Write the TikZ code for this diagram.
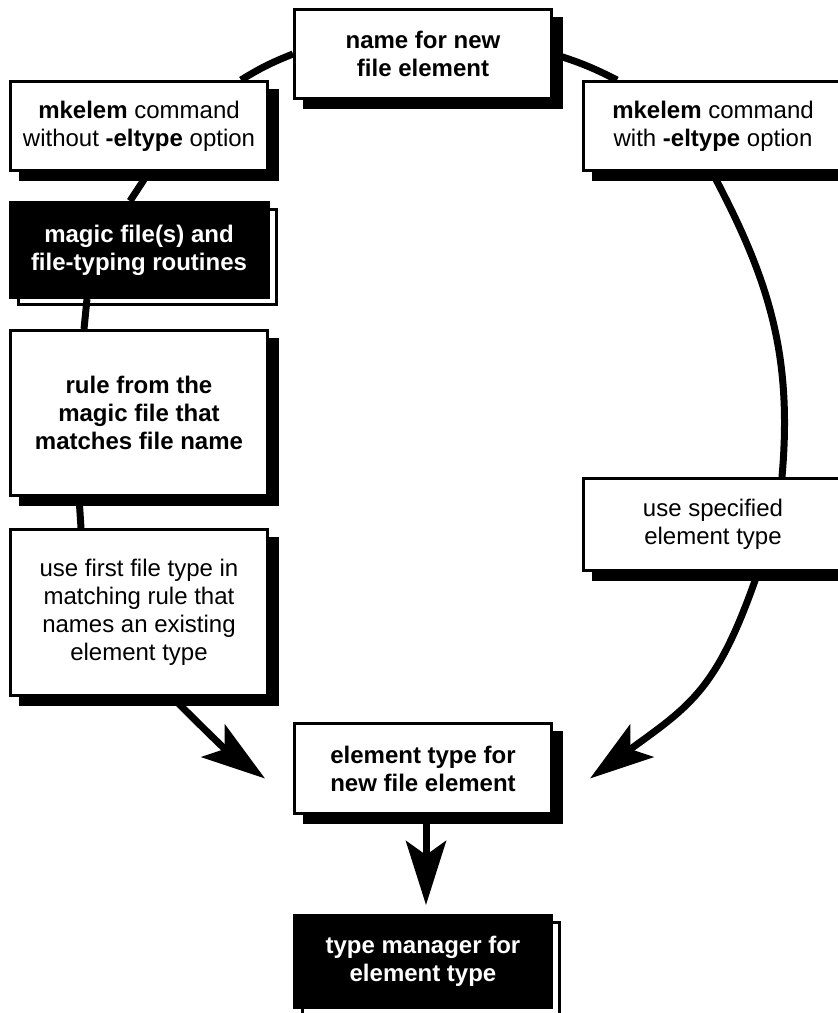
\documentclass[tikz,border=0pt]{standalone}
\usepackage{fontspec}
\setmainfont{Liberation Sans}
\usetikzlibrary{positioning,shadows,arrows.meta,backgrounds}

\begin{document}
\begin{tikzpicture}[
        x=1pt, y=1pt,
        node distance=120pt,
        every node/.style={font=\fontsize{24pt}{28pt}\selectfont, rectangle, align=center, inner sep=0pt, line width=3pt},
        bold/.style={font=\fontsize{24pt}{28pt}\selectfont\bfseries},
        box/.style={draw=black, fill=white, minimum width=257pt, minimum height=89pt, drop shadow={shadow xshift=10pt, shadow yshift=-9pt, fill=black, draw=black, opacity=1}},
        darkbox/.style={draw=black, fill=black, text=white, minimum width=258pt, minimum height=95pt, drop shadow={shadow xshift=8pt, shadow yshift=-7pt, fill=none, draw=black, opacity=1}},
        ring/.style={line width=7pt},
        arrow/.style={line width=7pt, -{Stealth[length=64pt, width=40pt, inset=14pt]}}
    ]
    \useasboundingbox (0,0) rectangle (838,-1013);
    % Nodes
    \node (name) [box, bold] at (423,-54) {name for new\\file element};
    \node (without) [box, below of=name, xshift=-284pt, yshift=48pt] {\textbf{mkelem} command\\without \textbf{-eltype} option};
    \node (magic) [darkbox, bold, below of=without, yshift=-4pt] {magic file(s) and\\file-typing routines};
    \node (rule) [box, bold, below of=magic, yshift=-43pt, minimum height=165pt] {rule from the\\magic file that\\matches file name};
    \node (usefirst) [box, below of=rule, yshift=-79.5pt, minimum height=166pt] {use first file type in\\matching rule that\\names an existing\\element type};

    \node (with) [box, right of=without, xshift=454pt, minimum width=259pt] {\textbf{mkelem} command\\with \textbf{-eltype} option};
    \node (specified) [box, below of=with, yshift=-278.5pt, minimum width=259pt, minimum height=92pt] {use specified\\element type};

    \node (elemtype) [box, bold, below of=usefirst, xshift=284pt, yshift=-36pt, minimum height=90pt] {element type for\\new file element};
    \node (typemgr) [darkbox, bold, below of=elemtype, yshift=-73pt, minimum width=257pt, minimum height=92pt] {type manager for\\element type};

    % Arrows
    \begin{scope}[on background layer]
    \draw [ring] (name.west) to[bend right=5] ([xshift=-28pt]without.north east);
    \draw [ring] ([xshift=10pt]without.south) -- ([xshift=-9pt]magic.north);
    \draw [ring] ([xshift=-52pt]magic.south) -- ([xshift=-55pt]rule.north);
    \draw [ring] ([xshift=-60pt]rule.south) -- ([xshift=-58pt]usefirst.north);
    \draw [arrow] ([xshift=33pt]usefirst.south) to[out=-45, in=144] ([xshift=-28pt, yshift=-10pt]elemtype.west);
    \draw [ring] (name.east) to[bend left=5] ([xshift=35pt]with.north west);
    \draw [ring] ([xshift=-1pt]with.south) to[out=-62, in=85] ([xshift=69pt]specified.north);
    \draw [arrow] ([xshift=45pt]specified.south) to[out=-109, in=36, looseness=1.2] ([xshift=37pt, yshift=-10pt]elemtype.east);
    \draw [arrow] ([xshift=3pt]elemtype.south) -- ([xshift=3pt, yshift=9pt]typemgr.north);
    \end{scope}
\end{tikzpicture}
\end{document}
